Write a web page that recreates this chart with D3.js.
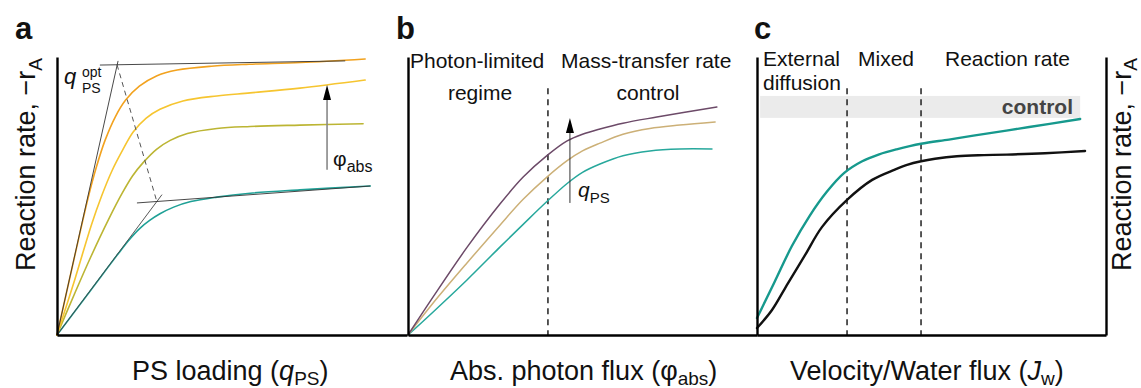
<!DOCTYPE html>
<html>
<head>
<meta charset="utf-8">
<script src="https://cdn.jsdelivr.net/npm/d3@7"></script>
<style>
  body { margin: 0; background: #fff; }
  svg { display: block; }
  text { font-family: "Liberation Sans", Arial, Helvetica, sans-serif; fill: #111; }
</style>
</head>
<body>
<svg id="fig" width="1141" height="388"></svg>
<script>
// ---- Panel a: reaction rate vs. PS loading, one curve per absorbed photon flux ----
const loadingOrange = [[0,0],[0.5,2.75],[0.9,4.9],[1.15,6.05],[1.4,7.0],[1.7,7.85],[2.0,8.45],[2.4,8.95],[2.9,9.32],[3.5,9.53],[4.5,9.67],[5.6,9.74],[7.1,9.8],[8.98,9.93]];
const loadingYellow = [[0,0],[0.52,2.0],[1.0,3.95],[1.3,5.0],[1.6,5.9],[1.9,6.62],[2.22,7.3],[2.6,7.8],[3.0,8.12],[3.67,8.42],[4.66,8.6],[5.63,8.71],[7.08,8.88],[8.98,9.17]];
const loadingOlive  = [[0,0],[0.5,1.45],[1.0,2.85],[1.5,4.15],[1.9,5.1],[2.2,5.72],[2.51,6.2],[2.9,6.68],[3.3,7.0],[3.8,7.25],[4.66,7.43],[5.63,7.5],[7.08,7.55],[8.92,7.6]];
const loadingTeal   = [[0,0],[1.0,1.64],[1.8,2.95],[2.1,3.42],[2.4,3.82],[2.7,4.12],[3.0,4.36],[3.4,4.6],[3.9,4.8],[4.66,4.96],[5.63,5.1],[7.08,5.22],[9.13,5.36]];

// construction lines locating the optimal loading
const steepTangent   = [[0,0],[1.78,9.86]];
const upperPlateau   = [[1.25,9.71],[8.4,9.86]];
const shallowTangent = [[0,0],[3.06,5.05]];
const lowerPlateau   = [[2.33,4.75],[9.13,5.36]];
const optimumTrace   = [[1.75,9.72],[2.91,4.8]];
const phiArrow       = [7.87, 5.94, 8.99];   // x, tail, tip

// ---- Panel b: reaction rate vs. absorbed photon flux, one curve per PS loading ----
const fluxPurple = [[0,0],[0.72,1.37],[1.69,3.15],[2.64,4.72],[3.3,5.68],[3.98,6.45],[4.56,6.98],[5.0,7.22],[5.5,7.41],[6.16,7.62],[7.13,7.84],[8.85,8.2]];
const fluxTan    = [[0,0],[0.72,1.15],[1.69,2.59],[2.64,3.96],[3.3,4.88],[3.98,5.68],[4.56,6.27],[5.0,6.62],[5.5,6.9],[6.16,7.22],[6.93,7.43],[7.79,7.55],[8.8,7.66]];
const fluxTeal   = [[0,0],[0.72,0.83],[1.69,1.98],[2.64,3.17],[3.3,3.98],[3.98,4.8],[4.56,5.45],[5.0,5.85],[5.5,6.15],[6.16,6.45],[6.93,6.62],[7.79,6.69],[8.71,6.69]];
const photonLimit = [4.01];
const qpsArrow    = [4.64, 4.75, 7.81];

// ---- Panel c: reaction rate vs. velocity / water flux ----
const velocityTeal  = [[0,0.61],[0.5,1.9],[1.0,3.2],[1.5,4.27],[2.0,5.15],[2.5,5.83],[3.0,6.24],[3.5,6.5],[4.0,6.68],[4.7,6.88],[5.5,7.03],[6.2,7.17],[7.8,7.48],[9.26,7.77]];
const velocityBlack = [[0,0.25],[0.43,0.9],[0.89,1.87],[1.38,2.88],[1.86,3.88],[2.58,4.86],[3.3,5.58],[3.95,5.95],[4.3,6.12],[4.7,6.25],[5.1,6.34],[5.73,6.43],[6.5,6.47],[7.16,6.49],[8.25,6.54],[9.4,6.62]];
const regimeLimits  = [2.58, 4.7];
const controlBand   = [0.09, 9.26, 7.81, 8.6]; // x0, x1, y0, y1

const regimeTop = 8.88;

// ---- scales ----
const svg = d3.select("#fig");
const y  = d3.scaleLinear().domain([0, 10]).range([335, 57]);
const xa = d3.scaleLinear().domain([0, 10.2]).range([57, 407]);
const xb = d3.scaleLinear().domain([0, 10]).range([408, 757]);
const xc = d3.scaleLinear().domain([0, 10]).range([757, 1106]);

const lineFor = (x, curve = d3.curveCatmullRom.alpha(0.5)) =>
  d3.line().x(d => x(d[0])).y(d => y(d[1])).curve(curve);

function curve(x, data, color, width) {
  svg.append("path").datum(data)
    .attr("d", lineFor(x))
    .attr("fill", "none").attr("stroke", color)
    .attr("stroke-width", width).attr("stroke-linecap", "round");
}
function guide(x, data, color, width, dash) {
  svg.append("path").datum(data)
    .attr("d", lineFor(x, d3.curveLinear))
    .attr("fill", "none").attr("stroke", color)
    .attr("stroke-width", width)
    .attr("stroke-dasharray", dash || null);
}
function vdash(x, v, top) {
  svg.append("line")
    .attr("x1", x(v)).attr("x2", x(v))
    .attr("y1", y(top)).attr("y2", y(0))
    .attr("stroke", "#111").attr("stroke-width", 1.4)
    .attr("stroke-dasharray", "6,5");
}
function arrow(x, spec, shaft, shaftWidth) {
  const [v, tail, tip] = spec;
  const px = x(v), pTip = y(tip);
  svg.append("line")
    .attr("x1", px).attr("x2", px)
    .attr("y1", y(tail)).attr("y2", pTip + 12)
    .attr("stroke", shaft).attr("stroke-width", shaftWidth);
  svg.append("path")
    .attr("d", `M${px},${pTip} L${px - 4},${pTip + 15} L${px + 4},${pTip + 15} Z`)
    .attr("fill", "#000");
}

// ---- regime shading (panel c) ----
svg.append("rect")
  .attr("x", xc(controlBand[0])).attr("width", xc(controlBand[1]) - xc(controlBand[0]))
  .attr("y", y(controlBand[3])).attr("height", y(controlBand[2]) - y(controlBand[3]))
  .attr("fill", "#ebebeb");

// ---- dashed regime boundaries ----
photonLimit.forEach(v => vdash(xb, v, regimeTop));
regimeLimits.forEach(v => vdash(xc, v, regimeTop));

// ---- panel a curves ----
curve(xa, loadingTeal,   "#1fa096", 1.6);
curve(xa, loadingOlive,  "#bcb533", 1.6);
curve(xa, loadingYellow, "#f6c530", 1.6);
curve(xa, loadingOrange, "#f2a21e", 1.6);
guide(xa, steepTangent,   "#333", 0.9);
guide(xa, upperPlateau,   "#333", 0.9);
guide(xa, shallowTangent, "#444", 0.9);
guide(xa, lowerPlateau,   "#333", 0.9);
guide(xa, optimumTrace,   "#555", 1, "5,4");
arrow(xa, phiArrow, "#888", 1.6);

// ---- panel b curves ----
curve(xb, fluxTeal,   "#27a89c", 1.5);
curve(xb, fluxTan,    "#ccb077", 1.5);
curve(xb, fluxPurple, "#6c4a68", 1.5);
arrow(xb, qpsArrow, "#333", 1);

// ---- panel c curves ----
curve(xc, velocityBlack, "#111", 2.4);
curve(xc, velocityTeal,  "#16998d", 2.4);

// ---- axes (frame only, no ticks) ----
function frame(axis, tx, ty) {
  const g = svg.append("g").attr("transform", `translate(${tx},${ty})`).call(axis);
  g.select(".domain").attr("stroke", "#000").attr("stroke-width", 2.4);
}
frame(d3.axisLeft(y).tickValues([]).tickSizeOuter(0), xa(0), 0);
frame(d3.axisLeft(y).tickValues([]).tickSizeOuter(0), xb(0), 0);
frame(d3.axisLeft(y).tickValues([]).tickSizeOuter(0), xc(0), 0);
frame(d3.axisRight(y).tickValues([]).tickSizeOuter(0), xc(10), 0);
frame(d3.axisBottom(xa).tickValues([]).tickSizeOuter(0), 0, y(0));
frame(d3.axisBottom(xb).tickValues([]).tickSizeOuter(0), 0, y(0));
frame(d3.axisBottom(xc).tickValues([]).tickSizeOuter(0), 0, y(0));

// ---- text helpers ----
function label(x, yy, parts, opts = {}) {
  const t = svg.append("text").attr("x", x).attr("y", yy)
    .attr("font-size", opts.size || 21)
    .attr("text-anchor", opts.anchor || "start");
  if (opts.weight) t.attr("font-weight", opts.weight);
  if (opts.fill) t.style("fill", opts.fill);
  if (opts.transform) t.attr("transform", opts.transform);
  parts.forEach(p => {
    const s = t.append("tspan").text(p.t);
    if (p.size) s.attr("font-size", p.size);
    if (p.italic) s.attr("font-style", "italic");
    if (p.dy) s.attr("dy", p.dy);
  });
  return t;
}

// panel letters
label(15, 39, [{t: "a"}], {size: 31, weight: "bold"});
label(396, 39, [{t: "b"}], {size: 31, weight: "bold"});
label(754, 39, [{t: "c"}], {size: 31, weight: "bold"});

// y-axis titles
label(0, 0, [{t: "Reaction rate, \u2212r"}, {t: "A", size: 19, dy: 7}],
  {size: 27, transform: "translate(35,271) rotate(-90)"});
label(0, 0, [{t: "Reaction rate, \u2212r"}, {t: "A", size: 19, dy: 6}],
  {size: 27, transform: "translate(1131,271) rotate(-90)"});

// x-axis titles
label(132, 380, [{t: "PS loading ("}, {t: "q", italic: true}, {t: "PS", size: 19, dy: 5}, {t: ")", dy: -5}], {size: 27});
label(450, 380, [{t: "Abs. photon flux ("}, {t: "\u03C6"}, {t: "abs", size: 19, dy: 5}, {t: ")", dy: -5}], {size: 27});
label(790, 380, [{t: "Velocity/Water flux ("}, {t: "J", italic: true}, {t: "w", size: 19, dy: 5}, {t: ")", dy: -5}], {size: 27});

// panel a annotations
label(64, 84, [{t: "q", italic: true}], {size: 22});
label(82, 77, [{t: "opt"}], {size: 14});
label(82, 93, [{t: "PS"}], {size: 14});
label(333, 166, [{t: "\u03C6"}, {t: "abs", size: 16, dy: 6}], {size: 21});

// panel b annotations
label(410, 68, [{t: "Photon-limited"}]);
label(480, 100, [{t: "regime"}], {anchor: "middle"});
label(561, 68, [{t: "Mass-transfer rate"}]);
label(648, 100, [{t: "control"}], {anchor: "middle"});
label(578, 197, [{t: "q", italic: true}, {t: "PS", size: 15, dy: 6}], {size: 21});

// panel c annotations
label(763, 66, [{t: "External"}]);
label(763, 90, [{t: "diffusion"}]);
label(858, 66, [{t: "Mixed"}]);
label(945, 66, [{t: "Reaction rate"}]);
label(1073, 114, [{t: "control"}], {weight: "bold", anchor: "end", fill: "#444"});
</script>
</body>
</html>
